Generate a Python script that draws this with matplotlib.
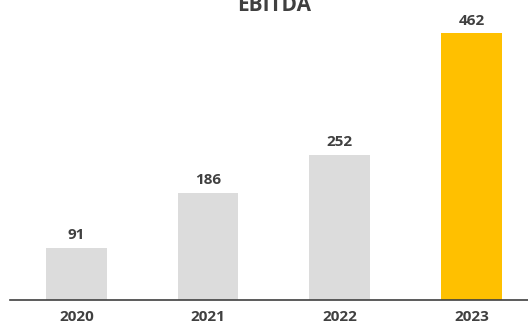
import matplotlib
matplotlib.use("Agg")
import matplotlib.pyplot as plt

years = ["2020", "2021", "2022", "2023"]
ebitda = [91, 186, 252, 462]
colors = ["#DCDCDC", "#DCDCDC", "#DCDCDC", "#FFC000"]

text_color = "#404040"
font = "Open Sans"

fig = plt.figure(figsize=(5.28, 3.23), dpi=100)
ax = fig.add_axes([10 / 528, 23 / 323, 518 / 528, 300 / 323])

x = range(len(years))
bars = ax.bar(x, ebitda, width=0.46, color=colors, zorder=2)

for rect, v in zip(bars, ebitda):
    ax.annotate(f"{v}", (rect.get_x() + rect.get_width() / 2, v),
                xytext=(0, 4), textcoords="offset points",
                ha="center", va="bottom", fontsize=11, fontweight="bold",
                family=font, color=text_color)

ax.set_xlim(-0.505, 3.43)
ax.set_ylim(0, 520)
ax.set_xticks(list(x))
ax.set_xticklabels(years, fontsize=11, fontweight="bold", family=font,
                   color=text_color)
ax.tick_params(axis="x", length=0, pad=7)
ax.set_yticks([])
for side in ("top", "right", "left"):
    ax.spines[side].set_visible(False)
ax.spines["bottom"].set_color(text_color)
ax.spines["bottom"].set_linewidth(1.2)

fig.text(274 / 528, 1 - 11 / 323, "EBITDA", ha="center", va="baseline",
         fontsize=15, fontweight="bold", family=font, color=text_color)

fig.savefig("out.png", dpi=100)
